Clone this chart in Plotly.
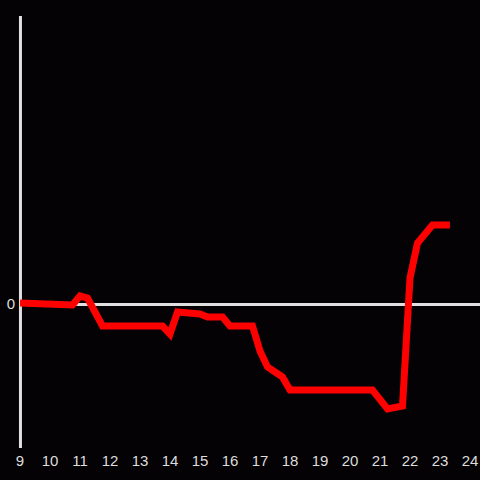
import plotly.graph_objects as go

hours = [9.0, 10.75, 11.0, 11.25, 11.75, 13.75, 14.0, 14.25, 15.0, 15.25, 15.75,
         16.0, 16.75, 17.0, 17.25, 17.75, 18.0, 20.75, 21.25, 21.75, 22.0,
         22.25, 22.75, 23.33]
values = [0.25, -0.25, 2.0, 1.5, -5.5, -5.5, -7.5, -2.0, -2.5, -3.25, -3.25,
          -5.5, -5.5, -11.75, -15.75, -18.25, -21.5, -21.5, -26.25, -25.5, 6.5,
          15.25, 19.75, 19.75]
x_ticks = list(range(9, 25))

fig = go.Figure()
fig.add_trace(go.Scatter(x=hours, y=values, mode="lines",
                         line=dict(color="#ff0000", width=7), hoverinfo="skip"))

fig.update_layout(
    width=480, height=480,
    margin=dict(l=20, r=0, t=16, b=32),
    paper_bgcolor="#040204", plot_bgcolor="#040204",
    showlegend=False,
    font=dict(family="Liberation Sans, Arial, sans-serif", size=15, color="#dddddd"),
    shapes=[dict(type="line", xref="paper", yref="paper", x0=0.001, x1=0.001,
                 y0=0, y1=1, line=dict(color="#e0e0e0", width=3), layer="below")],
)
fig.update_xaxes(range=[9, 9 + 460 / 30], tickvals=x_ticks, ticktext=[str(t) for t in x_ticks],
                 showgrid=False, zeroline=False, showline=False, ticks="", ticklabelstandoff=2)
fig.update_yaxes(range=[-36, 72], tickvals=[0], ticktext=["0"], showgrid=False,
                 zeroline=True, zerolinecolor="#e0e0e0", zerolinewidth=3,
                 showline=False, ticks="", ticklabelstandoff=4)

fig.write_html("out.html", config={"displayModeBar": False},
               post_script="document.body.style.margin='0';document.body.style.overflow='hidden';document.body.style.background='#040204';")
